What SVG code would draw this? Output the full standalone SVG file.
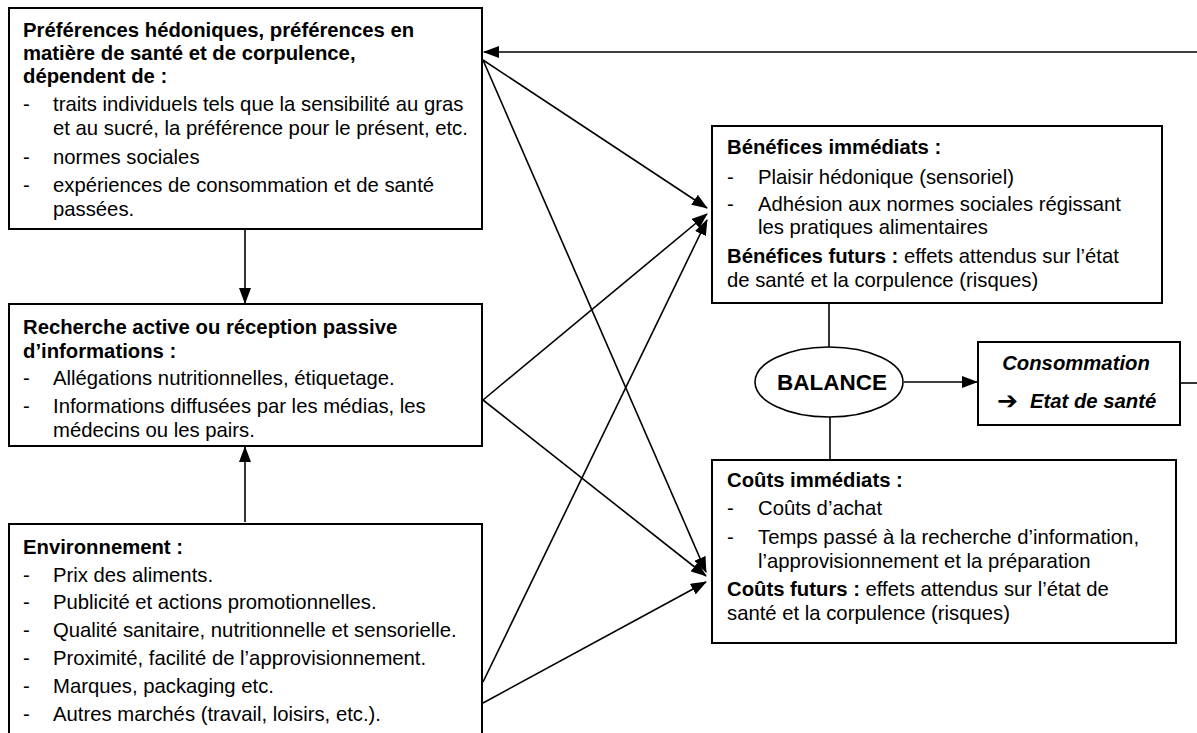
<svg xmlns="http://www.w3.org/2000/svg" width="1197" height="733" viewBox="0 0 1197 733">
<defs>
<marker id="arr" markerUnits="userSpaceOnUse" markerWidth="16" markerHeight="12" refX="15" refY="6" orient="auto">
<path d="M0,0 L16,6 L0,12 Z" fill="#000"/>
</marker>
<style>
.box{fill:#fff;stroke:#000;stroke-width:2}
.t{font-family:"Liberation Sans",Arial,sans-serif;font-size:20.3px;fill:#000}
.b{font-weight:bold}
.c{stroke:#000;stroke-width:1.6;fill:none}
</style>
</defs>
<rect width="1197" height="733" fill="#fff"/>

<g id="connectors">
<line class="c" x1="1197" y1="52" x2="484" y2="52" marker-end="url(#arr)"/>
<line class="c" x1="483" y1="60" x2="707" y2="208" marker-end="url(#arr)"/>
<line class="c" x1="483" y1="60" x2="706" y2="572" marker-end="url(#arr)"/>
<line class="c" x1="483" y1="400" x2="707" y2="214" marker-end="url(#arr)"/>
<line class="c" x1="483" y1="400" x2="706" y2="576" marker-end="url(#arr)"/>
<line class="c" x1="483" y1="682" x2="707" y2="220" marker-end="url(#arr)"/>
<line class="c" x1="483" y1="703" x2="706" y2="582" marker-end="url(#arr)"/>
<line class="c" x1="245" y1="230" x2="245" y2="303" marker-end="url(#arr)"/>
<line class="c" x1="245" y1="522" x2="245" y2="447" marker-end="url(#arr)"/>
<line class="c" x1="829" y1="303" x2="829" y2="347"/>
<line class="c" x1="830" y1="417" x2="830" y2="460"/>
<line class="c" x1="904" y1="382" x2="977" y2="382" marker-end="url(#arr)"/>
<line class="c" x1="1180" y1="383" x2="1197" y2="383"/>
</g>

<g id="preferences">
<rect class="box" x="9" y="8" width="473" height="221"/>
<text class="t b" x="23" y="37">Préférences hédoniques, préférences en</text>
<text class="t b" x="23" y="60">matière de santé et de corpulence,</text>
<text class="t b" x="23" y="83">dépendent de :</text>
<text class="t" x="23" y="111">-</text>
<text class="t" x="53" y="111">traits individuels tels que la sensibilité au gras</text>
<text class="t" x="53" y="135">et au sucré, la préférence pour le présent, etc.</text>
<text class="t" x="23" y="164">-</text>
<text class="t" x="53" y="164">normes sociales</text>
<text class="t" x="23" y="192">-</text>
<text class="t" x="53" y="192">expériences de consommation et de santé</text>
<text class="t" x="53" y="216">passées.</text>
</g>

<g id="information">
<rect class="box" x="9" y="304" width="473" height="142"/>
<text class="t b" x="23" y="334">Recherche active ou réception passive</text>
<text class="t b" x="23" y="358">d’informations :</text>
<text class="t" x="23" y="385">-</text>
<text class="t" x="53" y="385">Allégations nutritionnelles, étiquetage.</text>
<text class="t" x="23" y="413">-</text>
<text class="t" x="53" y="413">Informations diffusées par les médias, les</text>
<text class="t" x="53" y="437">médecins ou les pairs.</text>
</g>

<g id="environnement">
<rect class="box" x="9" y="524" width="473" height="220"/>
<text class="t b" x="23" y="554">Environnement :</text>
<text class="t" x="23" y="582">-</text>
<text class="t" x="53" y="582">Prix des aliments.</text>
<text class="t" x="23" y="609">-</text>
<text class="t" x="53" y="609">Publicité et actions promotionnelles.</text>
<text class="t" x="23" y="637">-</text>
<text class="t" x="53" y="637">Qualité sanitaire, nutritionnelle et sensorielle.</text>
<text class="t" x="23" y="665">-</text>
<text class="t" x="53" y="665">Proximité, facilité de l’approvisionnement.</text>
<text class="t" x="23" y="693">-</text>
<text class="t" x="53" y="693">Marques, packaging etc.</text>
<text class="t" x="23" y="721">-</text>
<text class="t" x="53" y="721">Autres marchés (travail, loisirs, etc.).</text>
</g>

<g id="benefices">
<rect class="box" x="712" y="126" width="450" height="177"/>
<text class="t b" x="727" y="154">Bénéfices immédiats :</text>
<text class="t" x="727" y="184">-</text>
<text class="t" x="758" y="184">Plaisir hédonique (sensoriel)</text>
<text class="t" x="727" y="211">-</text>
<text class="t" x="758" y="211">Adhésion aux normes sociales régissant</text>
<text class="t" x="758" y="234">les pratiques alimentaires</text>
<text class="t" x="727" y="263"><tspan class="b">Bénéfices futurs :</tspan> effets attendus sur l’état</text>
<text class="t" x="727" y="287">de santé et la corpulence (risques)</text>
</g>

<g id="balance">
<ellipse cx="829" cy="382" rx="74" ry="35" fill="#fff" stroke="#000" stroke-width="1.6"/>
<text class="t b" x="832" y="390" text-anchor="middle" style="font-size:22.5px">BALANCE</text>
</g>

<g id="consommation">
<rect class="box" x="978" y="342" width="202" height="83"/>
<text class="t b" x="1076" y="370" text-anchor="middle" font-style="italic">Consommation</text>
<text class="t" x="997" y="409" style="font-family:'DejaVu Sans',sans-serif;font-size:25px">➔</text>
<text class="t b" x="1030" y="408" font-style="italic">Etat de santé</text>
</g>

<g id="couts">
<rect class="box" x="712" y="460" width="464" height="183"/>
<text class="t b" x="727" y="487">Coûts immédiats :</text>
<text class="t" x="727" y="515">-</text>
<text class="t" x="758" y="515">Coûts d’achat</text>
<text class="t" x="727" y="544">-</text>
<text class="t" x="758" y="544">Temps passé à la recherche d’information,</text>
<text class="t" x="758" y="568">l’approvisionnement et la préparation</text>
<text class="t" x="727" y="596"><tspan class="b">Coûts futurs :</tspan> effets attendus sur l’état de</text>
<text class="t" x="727" y="620">santé et la corpulence (risques)</text>
</g>
</svg>
